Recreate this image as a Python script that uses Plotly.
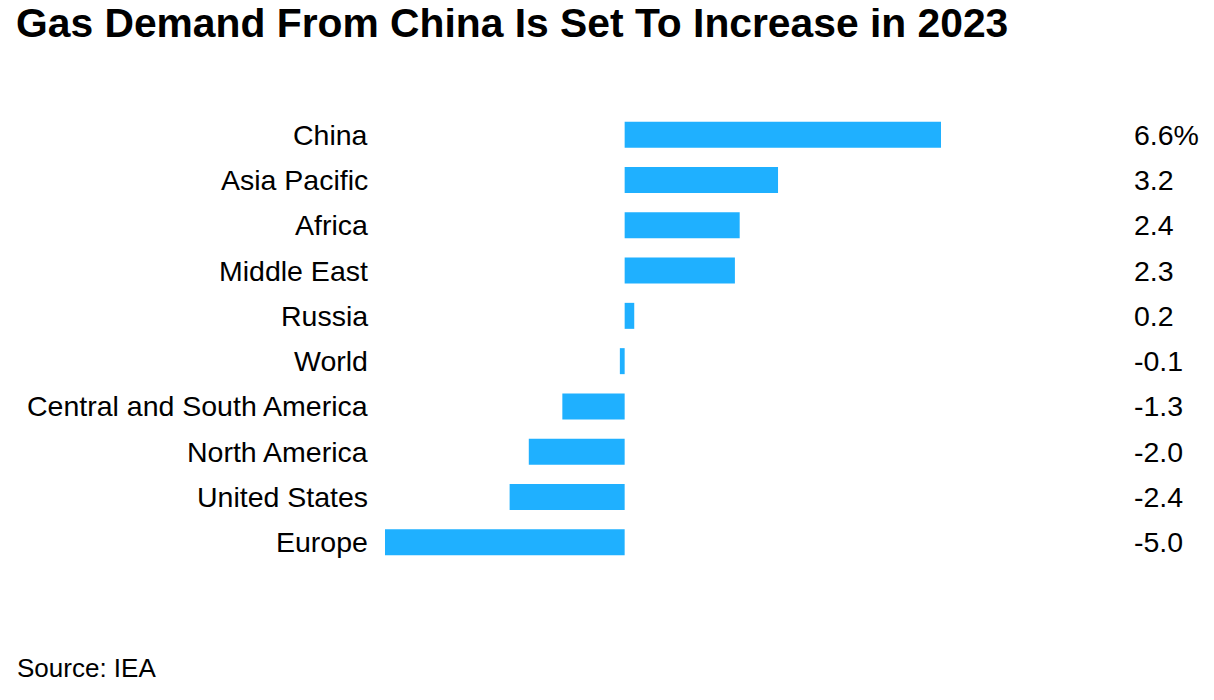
import plotly.graph_objects as go

categories = ["China", "Asia Pacific", "Africa", "Middle East", "Russia", "World",
              "Central and South America", "North America", "United States", "Europe"]
values = [6.6, 3.2, 2.4, 2.3, 0.2, -0.1, -1.3, -2.0, -2.4, -5.0]
value_labels = ["6.6%", "3.2", "2.4", "2.3", "0.2", "-0.1", "-1.3", "-2.0", "-2.4", "-5.0"]

FONT = "Liberation Sans, Arial, sans-serif"
OFF = 8  # default body margin of the html page
W, H = 1214 - OFF, 700 - OFF
# page-pixel targets
plot_left, plot_right, plot_top, plot_bottom = 385, 941, 112, 565
ml, mr = plot_left - OFF, (W + OFF) - plot_right
mt, mb = plot_top - OFF, (H + OFF) - plot_bottom
pw = plot_right - plot_left
ph = plot_bottom - plot_top

def px_x(page_x):
    return (page_x - plot_left) / pw

def px_y(page_y):
    return (plot_bottom - page_y) / ph

fig = go.Figure(go.Bar(
    x=values, y=categories, orientation="h",
    marker=dict(color="#1FB0FF", line=dict(width=0)),
    hoverinfo="skip",
))

annotations = []
for c, lab in zip(categories, value_labels):
    annotations.append(dict(x=px_x(1134), xref="paper", y=c, yref="y",
                            text=lab, showarrow=False, xanchor="left", xshift=-2,
                            font=dict(family=FONT, size=28.5, color="#000000")))
    annotations.append(dict(x=px_x(368), xref="paper", y=c, yref="y",
                            text=c, showarrow=False, xanchor="right", xshift=2,
                            font=dict(family=FONT, size=28.5, color="#000000")))

annotations.append(dict(text="Source: IEA", x=px_x(17), xref="paper", xanchor="left", xshift=-2,
                        y=px_y(668), yref="paper", yanchor="middle",
                        showarrow=False, font=dict(family=FONT, size=26, color="#000000")))

fig.update_layout(
    width=W, height=H,
    margin=dict(l=ml, r=mr, t=mt, b=mb),
    paper_bgcolor="white", plot_bgcolor="white",
    bargap=0.426,
    showlegend=False,
    xaxis=dict(range=[-5, 6.6], visible=False, fixedrange=True),
    yaxis=dict(categoryorder="array", categoryarray=categories[::-1],
               showticklabels=False, showgrid=False, zeroline=False,
               range=[-0.5, 9.5], fixedrange=True),
    title=dict(text="<b>Gas Demand From China Is Set To Increase in 2023</b>",
               x=(16 - OFF) / W, xanchor="left", xref="container",
               y=1 - (23 - OFF) / H, yanchor="middle", yref="container",
               font=dict(family=FONT, size=40.8, color="#000000")),
    annotations=annotations,
)

fig.write_html("out.html", config={"displayModeBar": False})
